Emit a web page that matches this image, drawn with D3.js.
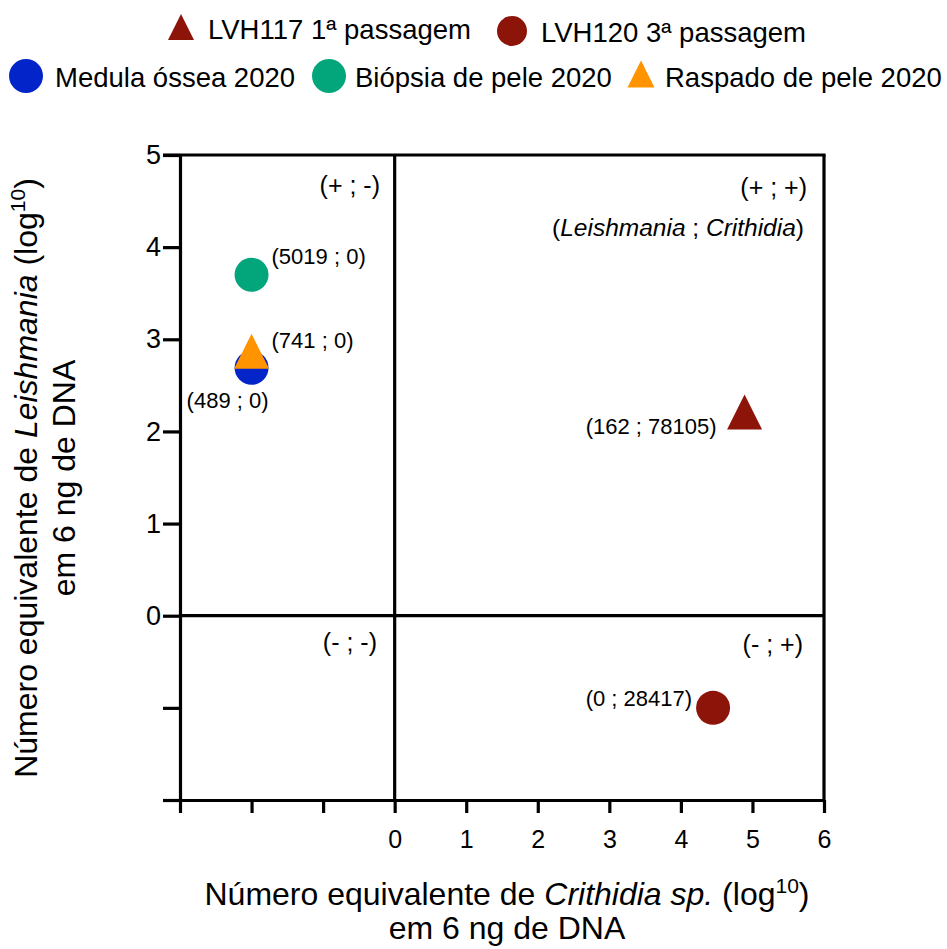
<!DOCTYPE html>
<html>
<head>
<meta charset="utf-8">
<script src="https://cdn.jsdelivr.net/npm/d3@7"></script>
<style>
  html, body { margin: 0; padding: 0; background: #fff; }
  svg { display: block; font-family: "Liberation Sans", Arial, Helvetica, sans-serif; }
</style>
</head>
<body>
<svg id="chart" width="947" height="949"></svg>
<script>
// ---------------- DATA ----------------
const categories = ["LVH117 1ª passagem", "LVH120 3ª passagem", "Medula óssea 2020", "Biópsia de pele 2020", "Raspado de pele 2020"];
const crithidiaLog = [4.89, 4.45, -2, -2, -2];      // x (log10); samples with 0 are placed at -2
const leishmaniaLog = [2.21, -1, 2.69, 3.70, 2.87]; // y (log10); sample with 0 is placed at -1
const pointLabels = ["(162 ; 78105)", "(0 ; 28417)", "(489 ; 0)", "(5019 ; 0)", "(741 ; 0)"];
const markerShapes = ["triangle", "circle", "circle", "circle", "triangle"];
const seriesColors = ["#8c1408", "#8c1408", "#0324c9", "#03a67a", "#ff9400"];
const xTicks = [-3, -2, -1, 0, 1, 2, 3, 4, 5, 6];
const xTickLabels = ["", "", "", "0", "1", "2", "3", "4", "5", "6"];
const yTicks = [-2, -1, 0, 1, 2, 3, 4, 5];
const yTickLabels = ["", "", "0", "1", "2", "3", "4", "5"];
const quadrantLabels = ["(+ ; -)", "(+ ; +)", "(- ; -)", "(- ; +)"];

// ---------------- LAYOUT ----------------
const svg = d3.select("#chart");
const L = 180, R = 824, T = 155, B = 800;
const x = d3.scaleLinear().domain([-3, 6]).range([L, R]);
const y = d3.scaleLinear().domain([-2, 5]).range([B, T]);
const lw = 3.2;
const ink = "#000";

// legend layout: [marker cx, marker cy, text x, text baseline, marker size]
const legendLayout = [
  [181, 27, 208, 39, 26],
  [512, 31, 541, 42, 15],
  [26, 76, 55, 87, 17],
  [329, 76, 355, 87, 17],
  [641, 74, 665, 87, 27]
];
// point label offsets: [dx, dy, anchor]
const labelOffsets = [
  [-28, 22, "end"],
  [-21, -2, "end"],
  [17, 40, "end"],
  [20, -11, "start"],
  [20, -3, "start"]
];
const quadrantPos = [[380, 194], [807, 196], [377, 651], [803, 653]];

function triPath(w, h) {
  return `M0,${-h / 2}L${w / 2},${h / 2}L${-w / 2},${h / 2}Z`;
}

// ---------------- LEGEND ----------------
const legend = svg.append("g");
categories.forEach((c, i) => {
  const [mx, my, tx, ty, s] = legendLayout[i];
  if (markerShapes[i] === "triangle") {
    legend.append("path").attr("d", triPath(s, s)).attr("transform", `translate(${mx},${my})`).attr("fill", seriesColors[i]);
  } else {
    legend.append("circle").attr("cx", mx).attr("cy", my).attr("r", s).attr("fill", seriesColors[i]);
  }
  legend.append("text").attr("x", tx).attr("y", ty).attr("font-size", 27.5).attr("fill", ink).text(c);
});

// ---------------- AXES ----------------
const yAxis = d3.axisLeft(y).tickValues(yTicks).tickSize(17).tickSizeOuter(0).tickPadding(2)
  .tickFormat((d, i) => yTickLabels[i]);
const gy = svg.append("g").attr("transform", `translate(${L},0)`).call(yAxis);
gy.selectAll("text").attr("font-size", 27).attr("fill", ink).attr("font-family", "Liberation Sans, Arial, sans-serif");

const xAxis = d3.axisBottom(x).tickValues(xTicks).tickSize(13).tickSizeOuter(0).tickPadding(17)
  .tickFormat((d, i) => xTickLabels[i]);
const gx = svg.append("g").attr("transform", `translate(0,${B})`).call(xAxis);
gx.selectAll("text").attr("font-size", 25).attr("fill", ink).attr("font-family", "Liberation Sans, Arial, sans-serif");

[gx, gy].forEach(g => {
  g.select(".domain").attr("stroke", ink).attr("stroke-width", lw);
  g.selectAll(".tick line").attr("stroke", ink).attr("stroke-width", lw);
});

// frame top/right and zero lines
svg.append("line").attr("x1", L - 17).attr("x2", R + lw / 2).attr("y1", y(5)).attr("y2", y(5)).attr("stroke", ink).attr("stroke-width", lw);
svg.append("line").attr("x1", x(6)).attr("x2", x(6)).attr("y1", y(5)).attr("y2", y(-2)).attr("stroke", ink).attr("stroke-width", lw);
svg.append("line").attr("x1", L).attr("x2", R).attr("y1", y(0)).attr("y2", y(0)).attr("stroke", ink).attr("stroke-width", lw);
svg.append("line").attr("x1", x(0)).attr("x2", x(0)).attr("y1", y(5)).attr("y2", y(-2)).attr("stroke", ink).attr("stroke-width", lw);

// ---------------- QUADRANT LABELS ----------------
quadrantLabels.forEach((q, i) => {
  svg.append("text").attr("x", quadrantPos[i][0]).attr("y", quadrantPos[i][1])
    .attr("text-anchor", "end").attr("font-size", 25).attr("fill", ink).text(q);
});
const lc = svg.append("text").attr("x", 804).attr("y", 236).attr("text-anchor", "end").attr("font-size", 24.5).attr("fill", ink);
lc.append("tspan").text("(");
lc.append("tspan").attr("font-style", "italic").text("Leishmania");
lc.append("tspan").text(" ; ");
lc.append("tspan").attr("font-style", "italic").text("Crithidia");
lc.append("tspan").text(")");

// ---------------- POINTS ----------------
const order = [3, 2, 4, 0, 1];
const pts = svg.append("g");
order.forEach(i => {
  const px = x(crithidiaLog[i]), py = y(leishmaniaLog[i]);
  if (markerShapes[i] === "triangle") {
    pts.append("path").attr("d", triPath(35, 35)).attr("transform", `translate(${px},${py})`).attr("fill", seriesColors[i]);
  } else {
    pts.append("circle").attr("cx", px).attr("cy", py).attr("r", 17).attr("fill", seriesColors[i]);
  }
});
pointLabels.forEach((t, i) => {
  const [dx, dy, anchor] = labelOffsets[i];
  svg.append("text").attr("x", x(crithidiaLog[i]) + dx).attr("y", y(leishmaniaLog[i]) + dy)
    .attr("text-anchor", anchor).attr("font-size", 22).attr("fill", ink).text(t);
});

// ---------------- AXIS TITLES ----------------
const xt = svg.append("text").attr("x", 507).attr("y", 905).attr("text-anchor", "middle").attr("font-size", 32).attr("fill", ink);
xt.append("tspan").text("Número equivalente de ");
xt.append("tspan").attr("font-style", "italic").text("Crithidia sp.");
xt.append("tspan").text(" (log");
xt.append("tspan").attr("font-size", 21).attr("dy", -12).text("10");
xt.append("tspan").attr("dy", 12).text(")");
svg.append("text").attr("x", 507).attr("y", 939).attr("text-anchor", "middle").attr("font-size", 32).attr("fill", ink).text("em 6 ng de DNA");

const yg = svg.append("g").attr("transform", "translate(0,478) rotate(-90)");
const yt = yg.append("text").attr("x", 0).attr("y", 37).attr("text-anchor", "middle").attr("font-size", 32).attr("fill", ink);
yt.append("tspan").text("Número equivalente de ");
yt.append("tspan").attr("font-style", "italic").text("Leishmania");
yt.append("tspan").text(" (log");
yt.append("tspan").attr("font-size", 21).attr("dy", -12).text("10");
yt.append("tspan").attr("dy", 12).text(")");
yg.append("text").attr("x", 0).attr("y", 75).attr("text-anchor", "middle").attr("font-size", 32).attr("fill", ink).text("em 6 ng de DNA");
</script>
</body>
</html>
